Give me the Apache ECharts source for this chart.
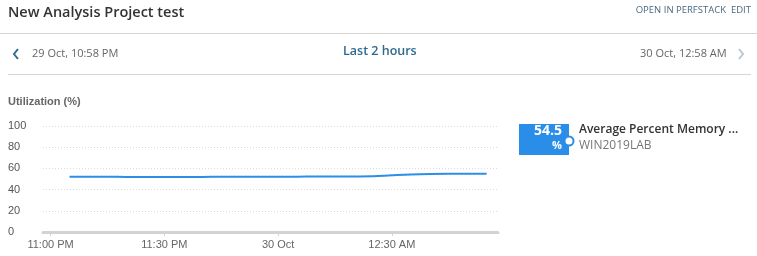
<!DOCTYPE html>
<html>
<head>
<meta charset="utf-8">
<script src="https://cdn.jsdelivr.net/npm/echarts@6/dist/echarts.min.js"></script>
<style>
html,body{margin:0;padding:0;background:#fff;}
#chart{width:757px;height:256px;}
</style>
</head>
<body>
<div id="chart"></div>
<script>
// ---- data ----
var times = ["23:05","23:10","23:15","23:20","23:25","23:30","23:35","23:40","23:45","23:50","23:55",
             "00:00","00:05","00:10","00:15","00:20","00:25","00:30","00:35","00:40","00:45","00:50","00:55"];
var memoryPct = [52.2,52.2,52.1,52.0,51.9,51.8,51.9,52.0,52.1,52.1,52.2,
                 52.2,52.2,52.3,52.3,52.4,52.6,53.5,54.3,54.8,55.0,55.0,54.9];
var yTicks = [0,20,40,60,80,100];
var xTicks = ["23:00","23:30","00:00","00:30"];
var rangeStart = "22:58", rangeEnd = "00:58";
var title = "New Analysis Project test";
var seriesName = "Average Percent Memory ...";
var nodeName = "WIN2019LAB";
var currentValue = "54.5";

// minutes since 22:00 on 29 Oct
function toMin(hm){
  var p = hm.split(":"); var h = +p[0], m = +p[1];
  return (h < 12 ? h + 24 : h) * 60 + m - 22 * 60;
}
var seriesData = times.map(function(t,i){ return [toMin(t), memoryPct[i]]; });
var xTickVals = xTicks.map(toMin);

function fmt(v){
  var tot = Math.round(v) + 22 * 60; var h = Math.floor(tot / 60) % 24, m = tot % 60;
  if (h === 0 && m === 0) return "30 Oct";
  var ap = h >= 12 ? "PM" : "AM"; var hh = h % 12; if (hh === 0) hh = 12;
  return hh + ":" + (m < 10 ? "0" + m : m) + " " + ap;
}

var chart = echarts.init(document.getElementById('chart'), null, {renderer:'canvas'});
var hdr = '"Open Sans", "Noto Sans", sans-serif';
var ax = '"Liberation Sans", Arial, sans-serif';
chart.setOption({
  animation:false,
  grid:{left:43, right:259, top:126, bottom:24, containLabel:false},
  xAxis:{
    type:'value', min:toMin(rangeStart), max:toMin(rangeEnd),
    axisLine:{show:true, lineStyle:{color:'#d3d3d3', width:3}},
    axisTick:{show:true, length:4, customValues:xTickVals, lineStyle:{color:'#d3d3d3', width:1}},
    splitLine:{show:false},
    axisLabel:{customValues:xTickVals, formatter:fmt, color:'#666', fontFamily:ax, fontSize:11, margin:7, hideOverlap:false}
  },
  yAxis:{
    type:'value', min:0, max:100, interval:20,
    axisLine:{show:false}, axisTick:{show:false},
    splitLine:{show:true, lineStyle:{color:'#dcdcdc', type:[1,2], width:1}},
    axisLabel:{color:'#555', fontFamily:ax, fontSize:11, align:'left', margin:35,
      formatter:function(v){ return yTicks.indexOf(v) >= 0 ? String(v) : ''; }}
  },
  series:[{
    type:'line', data:seriesData, showSymbol:false, smooth:0.4,
    lineStyle:{color:'#2b8ee8', width:2}
  }],
  graphic:[
    {type:'text', left:8, top:5, style:{text:title, font:'600 14.5px '+hdr, fill:'#333'}},
    {type:'text', right:6, top:5, style:{text:'OPEN IN PERFSTACK  EDIT', font:'9.5px '+hdr, fill:'#4a6a80'}},
    {type:'rect', shape:{x:0,y:33,width:757,height:1}, style:{fill:'#d6d6d6'}},
    {type:'polyline', shape:{points:[[18,49],[14,54],[18,59]]}, style:{stroke:'#2f6b8e', lineWidth:2, fill:null}},
    {type:'text', left:32, top:48, style:{text:'29 Oct, 10:58 PM', font:'11px '+hdr, fill:'#666'}},
    {type:'text', left:343, top:45, style:{text:'Last 2 hours', font:'600 12.5px '+hdr, fill:'#2e6a90'}},
    {type:'text', left:640, top:48, style:{text:'30 Oct, 12:58 AM', font:'11px '+hdr, fill:'#666'}},
    {type:'polyline', shape:{points:[[739,49],[743,54],[739,59]]}, style:{stroke:'#b8c8d4', lineWidth:2, fill:null}},
    {type:'rect', shape:{x:8,y:74,width:743,height:1}, style:{fill:'#d6d6d6'}},
    {type:'text', left:8, top:96, style:{text:'Utilization (%)', font:'bold 11px '+ax, fill:'#666'}},
    {type:'rect', shape:{x:519,y:124,width:50,height:31}, style:{fill:'#2a8ee8'}},
    {type:'text', x:562, y:124, style:{text:currentValue, font:'bold 14px '+hdr, fill:'#fff', align:'right'}},
    {type:'text', x:562, y:140, style:{text:'%', font:'bold 11px '+hdr, fill:'#fff', align:'right'}},
    {type:'circle', shape:{cx:569, cy:141, r:4.5}, style:{fill:'#fff', stroke:'#2a8ee8', lineWidth:2}},
    {type:'text', x:579, y:124, style:{text:seriesName, font:'600 12px '+hdr, fill:'#333'}},
    {type:'text', x:579, y:140, style:{text:nodeName, font:'12px '+hdr, fill:'#777'}}
  ]
});
</script>
</body>
</html>
